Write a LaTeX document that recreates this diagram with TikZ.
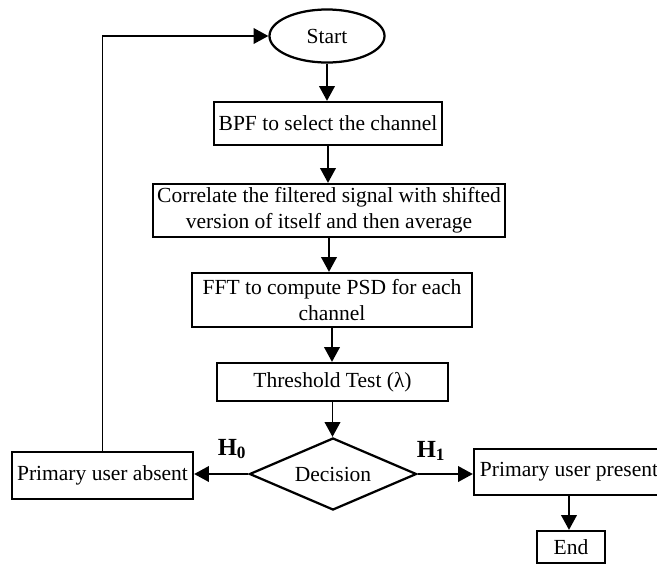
\documentclass[tikz,border=0pt]{standalone}
\usepackage{fontspec}
\setmainfont{Liberation Serif}
\usetikzlibrary{arrows.meta,positioning,shapes.geometric}
\tikzset{
  procbox/.style={draw,line width=1.6pt,align=center,inner sep=1pt,
    font=\fontsize{15.3}{18.5}\selectfont},
  termnode/.style={procbox,ellipse},
  decision/.style={procbox,diamond,aspect=2.3,inner sep=0pt},
  arrow/.style={-{Triangle[length=3.7mm,width=3.9mm]},line width=1.3pt},
  hyp/.style={font=\fontsize{17.5}{20}\selectfont\bfseries,inner sep=0pt}
}
\begin{document}
\begin{tikzpicture}[x=0.025cm,y=-0.025cm]
  \useasboundingbox (0,0) rectangle (657,566);
  \node[termnode,minimum width=2.875cm,minimum height=1.325cm] (start) at (327,36) {Start};
  \node[procbox,minimum width=5.7cm,minimum height=1.075cm] (bpf) at (328,123.5) {BPF to select the channel};
  \node[procbox,minimum width=8.8cm,minimum height=1.325cm] (corr) at (329,210.5)
    {Correlate the filtered signal with shifted\\version of itself and then average};
  \node[procbox,minimum width=7cm,minimum height=1.35cm] (fft) at (332,300)
    {FFT to compute PSD for each\\channel};
  \node[procbox,minimum width=5.775cm,minimum height=0.95cm] (thr) at (332.5,382) {Threshold Test (λ)};
  \node[decision,minimum width=4.175cm,minimum height=1.8cm] (dec) at (333,474) {Decision};
  \node[procbox,minimum width=4.525cm,minimum height=1.175cm] (absent) at (102.5,475.5) {Primary user absent};
  \node[procbox,minimum width=4.75cm,minimum height=1.15cm] (present) at (569,472) {Primary user present};
  \node[procbox,minimum width=1.7cm,minimum height=0.8cm] (end) at (571,547) {End};
  \node[hyp] (h0) at (232,449) {H\textsubscript{0}};
  \node[hyp] (h1) at (431,451) {H\textsubscript{1}};
  % main chain
  \draw[arrow] (start.south) -- (start.south |- bpf.north);
  \draw[arrow] (bpf.south) -- (bpf.south |- corr.north);
  \draw[arrow] (corr.south) -- (corr.south |- fft.north);
  \draw[arrow] (fft.south) -- (fft.south |- thr.north);
  \draw[arrow] (thr.south) -- (thr.south |- dec.north);
  % outcomes
  \draw[arrow] (dec.west) -- (dec.west -| absent.east);
  \draw[arrow] (dec.east) -- (dec.east -| present.west);
  \draw[arrow] (present.south) -- (present.south |- end.north);
  \draw[arrow] (absent.north) |- (start.west);
\end{tikzpicture}
\end{document}
